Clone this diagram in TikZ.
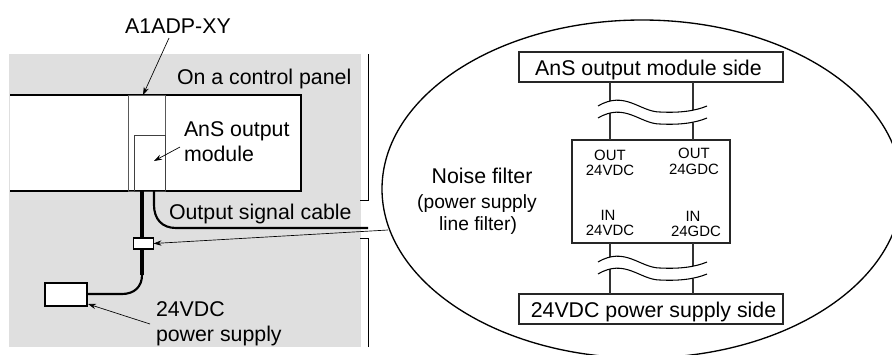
\documentclass[tikz,border=0pt]{standalone}
\usepackage{fontspec}
\setmainfont{Liberation Sans}
\usetikzlibrary{arrows.meta,shapes.geometric}
\definecolor{panelgray}{HTML}{DFDFDF}
\newcommand{\bigfs}{\fontsize{16}{18}\selectfont}
\newcommand{\midfs}{\fontsize{14.4}{17}\selectfont}
\newcommand{\smallfs}{\fontsize{11.2}{12}\selectfont}
\tikzset{
  x=0.75pt,y=-0.75pt,
  lab/.style={inner sep=0pt,outer sep=0pt,anchor=base,font=\bigfs},
  labw/.style={inner sep=0pt,outer sep=0pt,anchor=base west,font=\bigfs},
  midlab/.style={inner sep=0pt,outer sep=0pt,anchor=base,font=\midfs},
  smalllab/.style={inner sep=0pt,outer sep=0pt,anchor=base,font=\smallfs},
  pbox/.style={draw=black,fill=white,line width=0.9pt,inner sep=0pt,outer sep=0pt},
  fbox/.style={draw=black!85,fill=white,line width=0.8pt,inner sep=0pt,outer sep=0pt},
  cable/.style={line width=1.6pt,black},
  fat/.style={line width=2.4pt,black},
  wire/.style={line width=0.8pt,black!80},
  lead/.style={line width=0.5pt,black,-{Stealth[length=6pt,width=4pt]}},
  bracket/.style={line width=0.7pt,black},
  wave/.style={line width=0.8pt,black},
}
\begin{document}
\begin{tikzpicture}
\useasboundingbox (0,0) rectangle (892,354);
\clip (0,0) rectangle (892,354);
% panel
\fill[panelgray] (9,54) rectangle (361,347);
\node[fill=white,inner sep=0pt,outer sep=0pt,minimum width=218.25pt,minimum height=72pt] (rack) at (155.5,143) {};
\draw[line width=1pt] (10,95) -- (301,95) -- (301,191) -- (10,191);
\node[draw=black!65,line width=0.7pt,inner sep=0pt,outer sep=0pt,minimum width=27.75pt,minimum height=72pt] (adp) at (146.5,143) {};
\node[draw=black!75,line width=0.6pt,inner sep=0pt,outer sep=0pt,minimum width=23.25pt,minimum height=42pt] (ansmod) at (149.5,163) {};
% brackets
\coordinate (brk) at (368,0);
\coordinate (upfoot) at (360,200);
\coordinate (lowfoot) at (360,238);
\draw[bracket] (brk |- 0,54) -- (brk |- upfoot) -- (upfoot);
\draw[bracket] (brk |- 0,347) -- (brk |- lowfoot) -- (lowfoot);
% ellipse
\node[draw=black,fill=white,line width=1pt,shape=ellipse,inner sep=0pt,outer sep=0pt,minimum width=390pt,minimum height=253.5pt] (zoomview) at (642,189) {};
% cables
\node[pbox,line width=0.8pt,minimum width=15pt,minimum height=8.25pt] (filt) at (143.5,243.5) {};
\node[pbox,minimum width=31.5pt,minimum height=17.25pt] (psu) at (66,294.5) {};
\coordinate (cabtop) at (142,191);
\coordinate (sigtop) at (154,191);
\coordinate (sigend) at (368,228);
\draw[fat] (cabtop) -- (cabtop |- filt.north);
\draw[fat] (cabtop |- filt.south) -- (142,275);
\draw[cable] (142,275) .. controls (142,287) and (134,294) .. (122,294) -- (psu.east |- 0,294);
\draw[cable] (sigtop) -- (154,205) .. controls (154,219) and (162,228) .. (176,228) -- (sigend);
% leaders
\coordinate (adpfrom) at (169,38);
\coordinate (adpto) at (143,95);
\coordinate (modfrom) at (180,147);
\coordinate (modto) at (154,161);
\coordinate (psufrom) at (150,324);
\coordinate (psuto) at (88,304);
\coordinate (filtfrom) at (388,230);
\draw[lead] (adpfrom) -- (adpto);
\draw[lead] (modfrom) -- (modto);
\draw[lead] (psufrom) -- (psuto);
\draw[lead] (filtfrom) -- (filt.east);
% left labels
\node[lab] (tadp) at (178,33) {A1ADP-XY};
\node[labw] (tpanel) at (177,84) {On a control panel};
\node[labw] (tans) at (184,136) {AnS output};
\node[labw] (tmod) at (184,161) {module};
\node[labw] (tsig) at (169,219) {Output signal cable};
\node[labw] (t24) at (156,316) {24VDC};
\node[labw] (tpow) at (156,341) {power supply};
% right side
\node[fbox,minimum width=198pt,minimum height=22.5pt] (top) at (651,67) {};
\node[fbox,minimum width=118.5pt,minimum height=77.25pt] (filter) at (651,191.5) {};
\node[fbox,minimum width=198pt,minimum height=22.5pt] (bot) at (651,309) {};
\coordinate (wl) at (610,0);
\coordinate (wr) at (693,0);
\draw[wire] (wl |- top.south) -- (wl |- filter.north);
\draw[wire] (wr |- top.south) -- (wr |- filter.north);
\draw[wire] (wl |- filter.south) -- (wl |- bot.north);
\draw[wire] (wr |- filter.south) -- (wr |- bot.north);
% break marks
\fill[white] (598,106) .. controls (625,90) and (640,112) .. (660,112) .. controls (680,113) and (695,111) .. (707,106) -- (707,118) .. controls (695,124) and (680,125) .. (660,124) .. controls (640,124) and (625,102) .. (598,118) -- cycle;
\draw[wave] (598,106) .. controls (625,90) and (640,112) .. (660,112) .. controls (680,113) and (695,111) .. (707,106);
\draw[wave] (598,118) .. controls (625,102) and (640,124) .. (660,124) .. controls (680,125) and (695,123) .. (707,118);
\fill[white] (598,262) .. controls (625,246) and (640,268) .. (660,268) .. controls (680,269) and (695,267) .. (707,262) -- (707,274) .. controls (695,280) and (680,281) .. (660,280) .. controls (640,280) and (625,258) .. (598,274) -- cycle;
\draw[wave] (598,262) .. controls (625,246) and (640,268) .. (660,268) .. controls (680,269) and (695,267) .. (707,262);
\draw[wave] (598,274) .. controls (625,258) and (640,280) .. (660,280) .. controls (680,281) and (695,279) .. (707,274);
% right labels
\node[lab] (ttop) at (648.5,75) {AnS output module side};
\node[lab] (tbot) at (653.5,317) {24VDC power supply side};
\node[lab] (tnoise) at (482,183) {Noise filter};
\node[midlab] (tps) at (477,208) {(power supply};
\node[midlab] (tlf) at (478,230) {line filter)};
\node[smalllab] (o1) at (610,160) {OUT};
\node[smalllab] (o2) at (610,175) {24VDC};
\node[smalllab] (o3) at (694,158) {OUT};
\node[smalllab] (o4) at (694,174) {24GDC};
\node[smalllab] (i1) at (608,220) {IN};
\node[smalllab] (i2) at (610,235) {24VDC};
\node[smalllab] (i3) at (693,221) {IN};
\node[smalllab] (i4) at (696,236) {24GDC};
\end{tikzpicture}
\end{document}
